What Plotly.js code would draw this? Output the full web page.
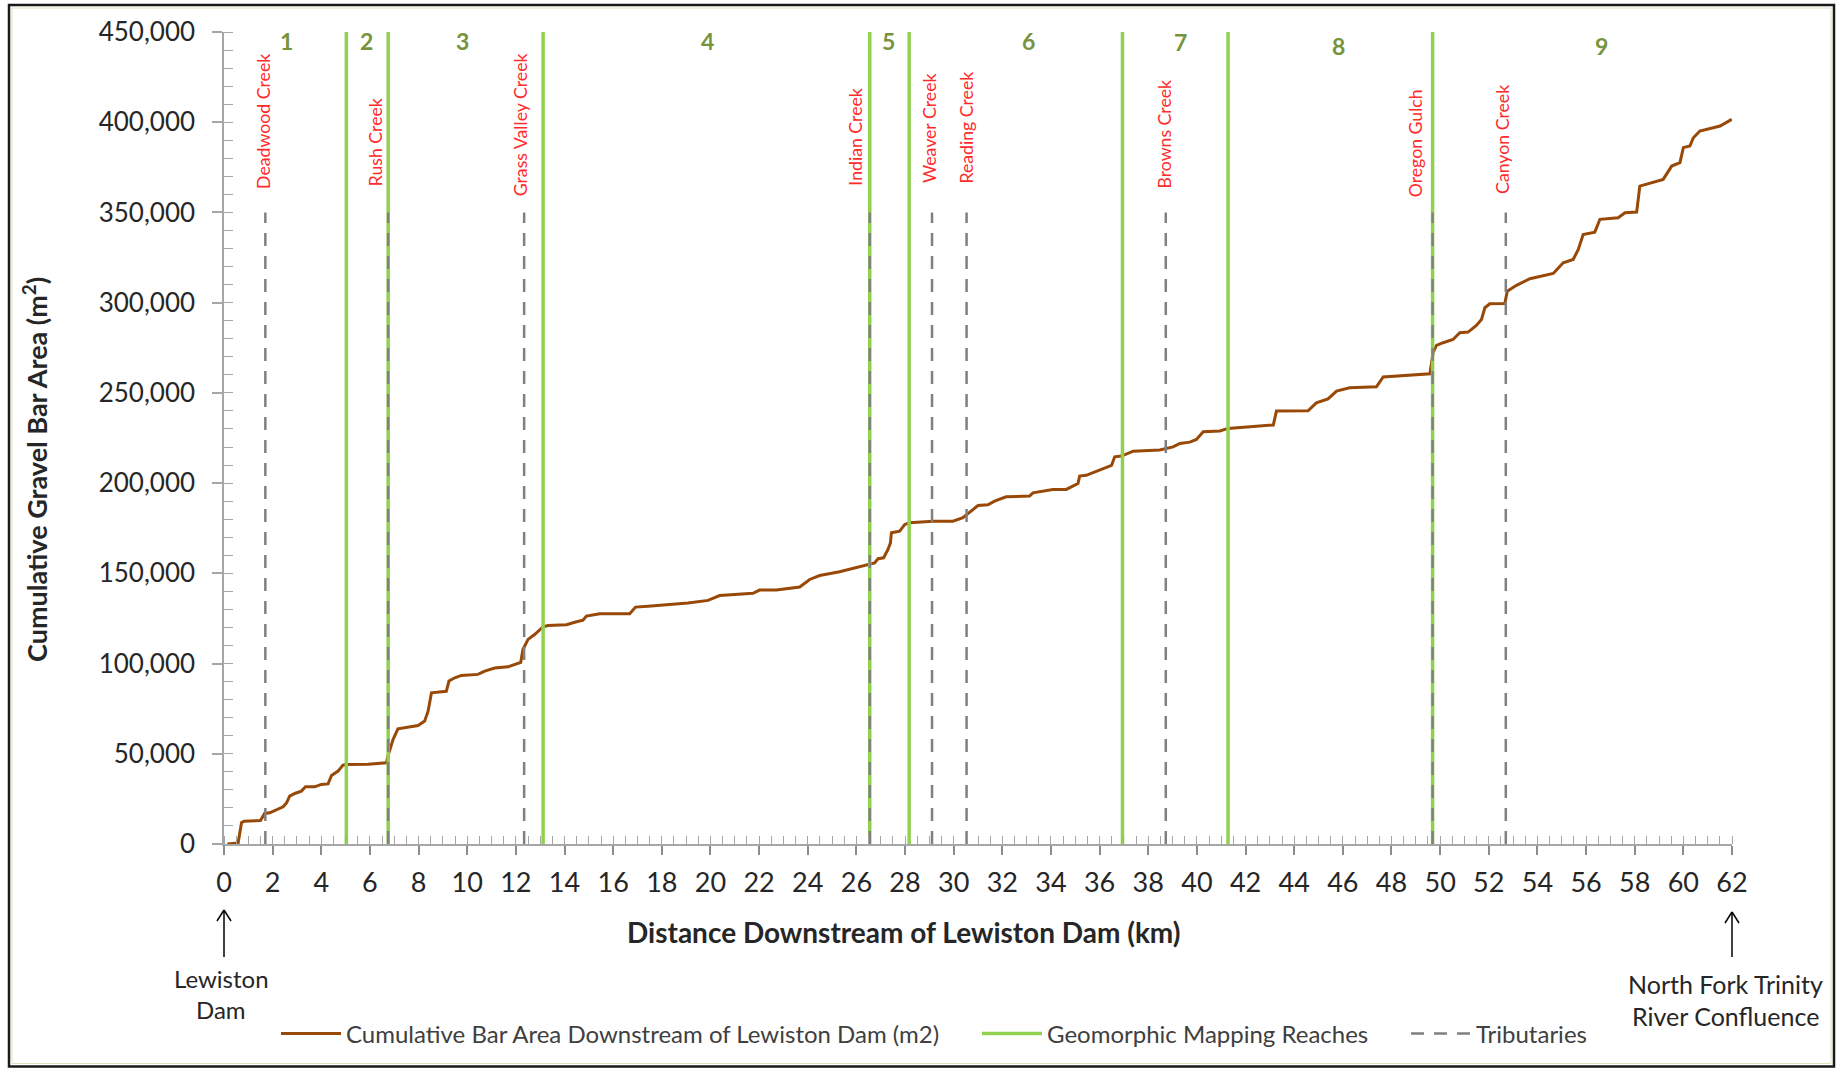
<!DOCTYPE html>
<html>
<head>
<meta charset="utf-8">
<script src="https://cdn.plot.ly/plotly-3.0.1.min.js"></script>
<style>
  html, body { margin: 0; padding: 0; background: #ffffff; }
  #chart { width: 1841px; height: 1068px; }
</style>
</head>
<body>
<div id="chart"></div>
<script>
// ---- Data ----
// Distance downstream of Lewiston Dam (km)
const distanceKm = [0.14, 0.58, 0.72, 0.82, 1.50, 1.67, 1.88, 2.15, 2.43, 2.57, 2.70, 2.91, 3.18, 3.35, 3.73, 4.00, 4.28, 4.42, 4.69, 4.89,
  5.03, 5.92, 6.68, 6.74, 6.95, 7.15, 7.50, 7.98, 8.25, 8.39, 8.53, 8.73, 9.14, 9.25, 9.49, 9.76, 10.44, 10.72, 11.13, 11.68,
  12.12, 12.20, 12.29, 12.50, 12.77, 13.12, 13.32, 14.08, 14.42, 14.76, 14.90, 15.45, 16.68, 16.92, 17.43, 18.12, 19.08, 19.90, 20.38, 21.75,
  22.02, 22.71, 23.67, 24.08, 24.49, 25.31, 26.00, 26.55, 26.75, 26.89, 27.12, 27.30, 27.40, 27.44, 27.78, 27.99, 28.19, 29.15, 29.97, 30.38,
  30.72, 31.00, 31.41, 31.68, 32.16, 33.12, 33.26, 34.08, 34.63, 35.11, 35.18, 35.45, 36.49, 36.62, 36.90, 37.38, 38.47, 39.02, 39.30, 39.71,
  39.98, 40.26, 40.94, 41.28, 43.14, 43.27, 44.57, 44.91, 45.39, 45.74, 46.28, 47.38, 47.66, 48.75, 49.58, 49.71, 49.85, 50.12, 50.53, 50.81,
  51.15, 51.49, 51.70, 51.84, 52.04, 52.66, 52.76, 53.14, 53.69, 54.65, 55.06, 55.47, 55.68, 55.88, 56.36, 56.57, 57.32, 57.60, 58.08, 58.21,
  58.63, 59.17, 59.52, 59.86, 60.00, 60.27, 60.41, 60.68, 61.51, 61.99];
// Cumulative gravel bar area (m2)
const cumulativeArea = [0, 500, 11800, 12600, 13000, 16900, 17300, 19100, 20600, 22800, 26500, 28000, 29300, 31700, 31700, 33000, 33300, 38000, 40400, 43700,
  44000, 44200, 45000, 48700, 57900, 63800, 64700, 65700, 68100, 73600, 83800, 84100, 84600, 90300, 92100, 93400, 94000, 95800, 97500, 98200,
  100000, 100700, 107800, 113400, 116100, 120400, 121100, 121500, 122900, 124000, 126300, 127600, 127600, 131300, 131800, 132600, 133600, 135000, 137700, 138900,
  140700, 140700, 142400, 146600, 148800, 150900, 153100, 154900, 155800, 158100, 158600, 163200, 166900, 172500, 173400, 177100, 178000, 178900, 178900, 180800,
  184500, 187600, 188000, 190000, 192400, 192800, 194600, 196500, 196500, 199800, 203900, 204300, 209800, 214600, 215000, 217700, 218400, 220100, 222000, 222700,
  224200, 228500, 228900, 230300, 232200, 239900, 240100, 244500, 246700, 251000, 252800, 253400, 258800, 259900, 260600, 272300, 276300, 277800, 279600, 283300,
  283700, 287400, 290700, 297200, 299400, 299500, 306400, 309600, 313300, 316200, 322100, 323900, 329500, 337800, 339100, 346200, 347100, 349800, 350200, 364600,
  366400, 368300, 375700, 377600, 385900, 386800, 391400, 395100, 397900, 401600];

// Geomorphic mapping reach boundaries (km) and reach numbers
const reachBoundaryKm = [5.03, 6.75, 13.12, 26.55, 28.17, 36.94, 41.28, 49.69];
const reachNumbers = ['1', '2', '3', '4', '5', '6', '7', '8', '9'];

// Tributaries (km)
const tributaryNames = ['Deadwood Creek', 'Rush Creek', 'Grass Valley Creek', 'Indian Creek', 'Weaver Creek',
  'Reading Creek', 'Browns Creek', 'Oregon Gulch', 'Canyon Creek'];
const tributaryKm = [1.70, 6.75, 12.34, 26.55, 29.11, 30.53, 38.72, 49.69, 52.70];
const tributaryLineTop = 350000;
const axisTop = 450000;

// x axis ticks
const xTickValues = [0, 2, 4, 6, 8, 10, 12, 14, 16, 18, 20, 22, 24, 26, 28, 30, 32, 34, 36, 38, 40, 42, 44, 46, 48, 50, 52, 54, 56, 58, 60, 62];

// end-point labels (one line each)
const startLabelLines = ['Lewiston', 'Dam'];
const endLabelLines = ['North Fork Trinity', 'River Confluence'];

// ---- Label placement (layout only) ----
const reachLabelKm = [2.56, 5.84, 9.80, 19.89, 27.32, 33.07, 39.34, 45.81, 56.63];
const reachLabelPx = [41, 41, 41, 41, 41, 41, 42, 45.5, 45.5];
const tributaryLabelKm = [1.62, 6.22, 12.20, 25.93, 28.99, 30.49, 38.65, 48.98, 52.56];
const tributaryLabelBottomPx = [191, 188, 198, 188, 185, 186, 191, 199, 196];

// ---- Geometry helpers (plot area: left 224, top 32, 1508 x 812 px) ----
const PL = 224, PT = 32, PW = 1508, PH = 812;
const py = p => (PT + PH - p) / PH;   // pixel row -> paper y
const px = p => (p - PL) / PW;        // pixel column -> paper x

const FONT = 'Lato, "Open Sans", sans-serif';
const TXT = '#262626';

const reachX = [], reachY = [];
reachBoundaryKm.forEach(k => { reachX.push(k, k, null); reachY.push(0, axisTop, null); });
const tribX = [], tribY = [];
tributaryKm.forEach(k => { tribX.push(k, k, null); tribY.push(0, tributaryLineTop, null); });

const traces = [
  {
    x: distanceKm, y: cumulativeArea, type: 'scatter', mode: 'lines',
    name: 'Cumulative Bar Area Downstream of Lewiston Dam (m2)',
    line: { color: '#984807', width: 3 },
    legend: 'legend', hoverinfo: 'x+y'
  },
  {
    x: reachX, y: reachY, type: 'scatter', mode: 'lines',
    name: 'Geomorphic Mapping Reaches',
    line: { color: '#92D050', width: 3.5 },
    connectgaps: false, legend: 'legend2', hoverinfo: 'x'
  },
  {
    x: tribX, y: tribY, type: 'scatter', mode: 'lines',
    name: 'Tributaries',
    line: { color: '#808080', width: 2.5, dash: '13px,10px' },
    connectgaps: false, legend: 'legend3', hoverinfo: 'x'
  }
];

// ---- Annotations ----
const annotations = [];
reachNumbers.forEach((r, i) => {
  annotations.push({
    x: reachLabelKm[i], xref: 'x', y: py(reachLabelPx[i]), yref: 'paper',
    text: '<b>' + r + '</b>', showarrow: false, xanchor: 'center', yanchor: 'middle',
    font: { family: FONT, size: 23, color: '#77933C' }
  });
});
tributaryNames.forEach((n, i) => {
  annotations.push({
    x: tributaryLabelKm[i], xref: 'x', y: py(tributaryLabelBottomPx[i]), yref: 'paper',
    text: n, showarrow: false, textangle: -90, xanchor: 'center', yanchor: 'bottom',
    font: { family: FONT, size: 17.7, color: '#FF2B2B' }
  });
});
// axis titles
annotations.push({
  x: px(35), xref: 'paper', y: py(470), yref: 'paper', textangle: -90,
  text: '<b>Cumulative Gravel Bar Area (m<sup>2</sup>)</b>', showarrow: false,
  xanchor: 'center', yanchor: 'middle', font: { family: FONT, size: 27, color: TXT }
});
annotations.push({
  x: px(904), xref: 'paper', y: py(932), yref: 'paper',
  text: '<b>Distance Downstream of Lewiston Dam (km)</b>', showarrow: false,
  xanchor: 'center', yanchor: 'middle', font: { family: FONT, size: 28, color: TXT }
});
// end labels, one annotation per line
startLabelLines.forEach((t, i) => {
  annotations.push({
    x: px(221), xref: 'paper', y: py(978 + 32 * i), yref: 'paper', text: t, showarrow: false,
    xanchor: 'center', yanchor: 'middle', font: { family: FONT, size: 24, color: TXT }
  });
});
endLabelLines.forEach((t, i) => {
  annotations.push({
    x: px(1725), xref: 'paper', y: py(984 + 32 * i), yref: 'paper', text: t, showarrow: false,
    xanchor: 'center', yanchor: 'middle', font: { family: FONT, size: 25, color: TXT }
  });
});

// arrows drawn as shapes (shaft + open head)
function arrowShapes(xPaper, tipPx, tailPx) {
  const w = 7 / PW, h = 11;
  const ln = { color: '#000000', width: 1.5 };
  return [
    { type: 'line', xref: 'paper', yref: 'paper', x0: xPaper, x1: xPaper, y0: py(tipPx), y1: py(tailPx), line: ln },
    { type: 'line', xref: 'paper', yref: 'paper', x0: xPaper - w, x1: xPaper, y0: py(tipPx + h), y1: py(tipPx), line: ln },
    { type: 'line', xref: 'paper', yref: 'paper', x0: xPaper + w, x1: xPaper, y0: py(tipPx + h), y1: py(tipPx), line: ln }
  ];
}

const legendBase = {
  orientation: 'h', yanchor: 'middle', xanchor: 'left', y: py(1034),
  bgcolor: 'rgba(0,0,0,0)', borderwidth: 0, itemwidth: 60,
  font: { family: FONT, size: 24, color: '#404040' }
};

const layout = {
  width: 1841, height: 1068,
  margin: { l: PL, r: 1841 - PL - PW, t: PT, b: 1068 - PT - PH },
  paper_bgcolor: '#ffffff', plot_bgcolor: '#ffffff',
  font: { family: FONT, color: TXT },
  showlegend: true,
  legend: Object.assign({}, legendBase, { x: px(276) }),
  legend2: Object.assign({}, legendBase, { x: px(977) }),
  legend3: Object.assign({}, legendBase, { x: px(1406) }),
  xaxis: {
    range: [0, 62], tickmode: 'array', tickvals: xTickValues,
    ticks: 'outside', ticklen: 9, tickwidth: 1.5, tickcolor: '#8C8C8C',
    showline: true, linecolor: '#A6A6A6', linewidth: 1.5,
    showgrid: false, zeroline: false,
    tickfont: { family: FONT, size: 27, color: TXT },
    ticklabelstandoff: 5,
    minor: { dtick: 0.5, tick0: 0, ticks: 'inside', ticklen: 8, tickwidth: 1.2, tickcolor: '#A6A6A6', showgrid: false }
  },
  yaxis: {
    range: [0, 450000], tickmode: 'linear', tick0: 0, dtick: 50000, tickformat: ',d',
    ticks: 'outside', ticklen: 10, tickwidth: 1.5, tickcolor: '#A6A6A6',
    showline: true, linecolor: '#A6A6A6', linewidth: 1.5,
    showgrid: false, zeroline: false,
    tickfont: { family: FONT, size: 26, color: TXT },
    ticklabelstandoff: 12,
    minor: { dtick: 10000, tick0: 0, ticks: 'inside', ticklen: 9, tickwidth: 1.2, tickcolor: '#A6A6A6', showgrid: false }
  },
  annotations: annotations,
  shapes: [
    { type: 'rect', xref: 'paper', yref: 'paper', x0: px(9), x1: px(1834), y0: py(1066.5), y1: py(5),
      line: { color: '#1A1A1A', width: 2.5 }, fillcolor: 'rgba(0,0,0,0)', layer: 'below' },
    { type: 'rect', xref: 'paper', yref: 'paper', x0: px(12), x1: px(1831), y0: py(1063.5), y1: py(8),
      line: { color: '#D7E4BD', width: 1 }, fillcolor: 'rgba(0,0,0,0)', layer: 'below' }
  ].concat(arrowShapes(0, 910, 957), arrowShapes(1, 912, 957))
};

Plotly.newPlot('chart', traces, layout, { displayModeBar: false, responsive: false });
</script>
</body>
</html>
